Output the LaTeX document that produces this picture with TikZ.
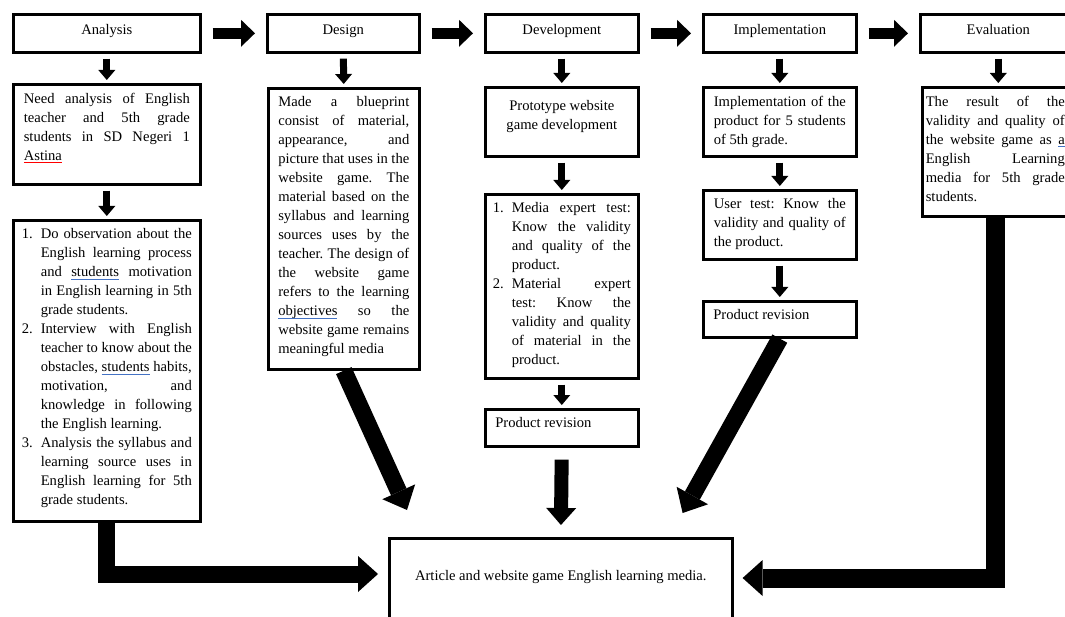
\documentclass[tikz,border=0pt]{standalone}
\usetikzlibrary{arrows.meta}
\usepackage{fontspec}
\setmainfont{Liberation Serif}
\definecolor{gramblue}{RGB}{68,114,196}
\newsavebox{\ulbox}
\newcommand{\stagefont}{\fontsize{14.6}{19}\selectfont\frenchspacing}
\newcommand{\boxtxt}[3]{\parbox[c][#1pt][t]{#2pt}{#3}}
\newcommand{\itm}[2]{\par\hangindent=19pt\hangafter=1\noindent\makebox[19pt][l]{#1}#2}
\newcommand{\gramline}[1]{\sbox{\ulbox}{#1}\rlap{\textcolor{gramblue}{\rule[-3pt]{\wd\ulbox}{1.3pt}}}\usebox{\ulbox}}
\newcommand{\spellline}[1]{\sbox{\ulbox}{#1}\rlap{\textcolor{red}{\rule[-3pt]{\wd\ulbox}{0.9pt}}}\usebox{\ulbox}}

\begin{document}
\begin{tikzpicture}[x=1pt,y=-1pt,
    stage/.style={draw, line width=2.6pt, anchor=north west, inner xsep=0pt, inner ysep=8.5pt, font=\stagefont},
    head/.style={stage, minimum height=38, text height=10pt, text depth=8pt},
    flowarr/.style={line width=11pt, -{Triangle[length=14pt,width=27pt,line width=0pt]}, shorten <=11pt, shorten >=11pt},
    downarr/.style={line width=7pt, -{Triangle[length=10pt,width=17pt,line width=0pt]}, shorten <=5pt, shorten >=3pt},
    bigarr/.style={line width=17pt, -{Triangle[length=20pt,width=36pt,line width=0pt]}}]
      \useasboundingbox (0,0) rectangle (1065,617);
      \clip (0,0) rectangle (1065,617);
      % the five stages
      \node[head, minimum width=187] (ana) at (12,13) {Analysis};
      \node[head, minimum width=152] (des) at (266,13) {Design};
      \node[head, minimum width=153] (dev) at (484,13) {Development};
      \node[head, minimum width=153] (imp) at (702,13) {Implementation};
      \node[head, minimum width=156] (eva) at (919,13) {Evaluation};
      \draw[flowarr] (ana.east) -- (des.west);
      \draw[flowarr] (des.east) -- (dev.west);
      \draw[flowarr] (dev.east) -- (imp.west);
      \draw[flowarr] (imp.east) -- (eva.west);
      % analysis
      \node[stage, minimum width=187] (need) at (12,83) {\boxtxt{83}{166}{Need analysis of English\linebreak teacher and 5th grade\linebreak students in SD Negeri 1\linebreak \spellline{Astina}}};
      \node[stage, minimum width=187] (list) at (12,219) {\boxtxt{284}{170}{%
        \itm{1.}{Do observation about the\linebreak English learning process\linebreak and \gramline{students} motivation\linebreak in English learning in 5th\linebreak grade students.}
        \itm{2.}{Interview with English\linebreak teacher to know about the\linebreak obstacles, \gramline{students} habits,\linebreak motivation, and\linebreak knowledge in following\linebreak the English learning.}
        \itm{3.}{Analysis the syllabus and\linebreak learning source uses in\linebreak English learning for 5th\linebreak grade students.}}};
      \draw[downarr] (ana.south) -- (need.north);
      \draw[downarr] (need.south) -- (list.north);
      % design
      \node[stage, minimum width=151] (blue) at (267,87) {\boxtxt{264}{131}{Made a blueprint\linebreak consist of material,\linebreak appearance, and\linebreak picture that uses in the\linebreak website game. The\linebreak material based on the\linebreak syllabus and learning\linebreak sources uses by the\linebreak teacher. The design of\linebreak the website game\linebreak refers to the learning\linebreak \gramline{objectives} so the\linebreak website game remains\linebreak meaningful media}};
      \draw[downarr] (des.south) -- (blue.north);
      % development
      \node[stage, minimum width=153] (proto) at (484,86) {\boxtxt{52}{135}{\centering\vspace*{5pt}Prototype website\\ game development}};
      \node[stage, minimum width=153] (media) at (484,193) {\boxtxt{167}{138}{%
        \itm{1.}{Media expert test:\linebreak Know the validity\linebreak and quality of the\linebreak product.}
        \itm{2.}{Material expert\linebreak test: Know the\linebreak validity and quality\linebreak of material in the\linebreak product.}}};
      \node[stage, minimum width=153] (rev1) at (484,408) {\boxtxt{20}{133}{Product revision}};
      \draw[downarr] (dev.south) -- (proto.north);
      \draw[downarr] (proto.south) -- (media.north);
      \draw[downarr] (media.south) -- (rev1.north);
      % implementation
      \node[stage, minimum width=153] (impl) at (702,86) {\boxtxt{52}{132}{Implementation of the\linebreak product for 5 students\linebreak of 5th grade.}};
      \node[stage, minimum width=153] (user) at (702,189) {\boxtxt{52}{132}{User test: Know the\linebreak validity and quality of\linebreak the product.}};
      \node[stage, minimum width=153] (rev2) at (702,300) {\boxtxt{19}{133}{Product revision}};
      \draw[downarr] (imp.south) -- (impl.north);
      \draw[downarr] (impl.south) -- (user.north);
      \draw[downarr] (user.south) -- (rev2.north);
      % evaluation, cut by the right edge
      \node[stage, minimum width=146] (result) at (921,86) {\boxtxt{112}{139}{The result of the\linebreak validity and quality of\linebreak the website game as \gramline{a}\linebreak English Learning\linebreak media for 5th grade\linebreak students.}};
      \draw[downarr] (eva.south) -- (eva.south |- result.north);
      % final product
      \node[stage, minimum width=343] (article) at (388,537) {\boxtxt{106}{320}{\centering\vspace*{24pt}Article and website game English learning media.}};
      \draw[bigarr] (list.south) |- ([xshift=-10pt,yshift=-37pt]article.north west);
      \draw[bigarr] (blue.south) -- ([xshift=19pt,yshift=27pt]article.north west);
      \draw[bigarr, line width=14pt, -{Triangle[length=17pt,width=30pt,line width=0pt]}, shorten <=12pt, shorten >=12pt] (rev1.south) -- (article.north);
      \draw[bigarr] (rev2.south) -- ([xshift=-51pt,yshift=24pt]article.north east);
      \draw[bigarr, line width=19pt] (result.south) |- ([xshift=9pt,yshift=-41pt]article.north east);
\end{tikzpicture}
\end{document}
